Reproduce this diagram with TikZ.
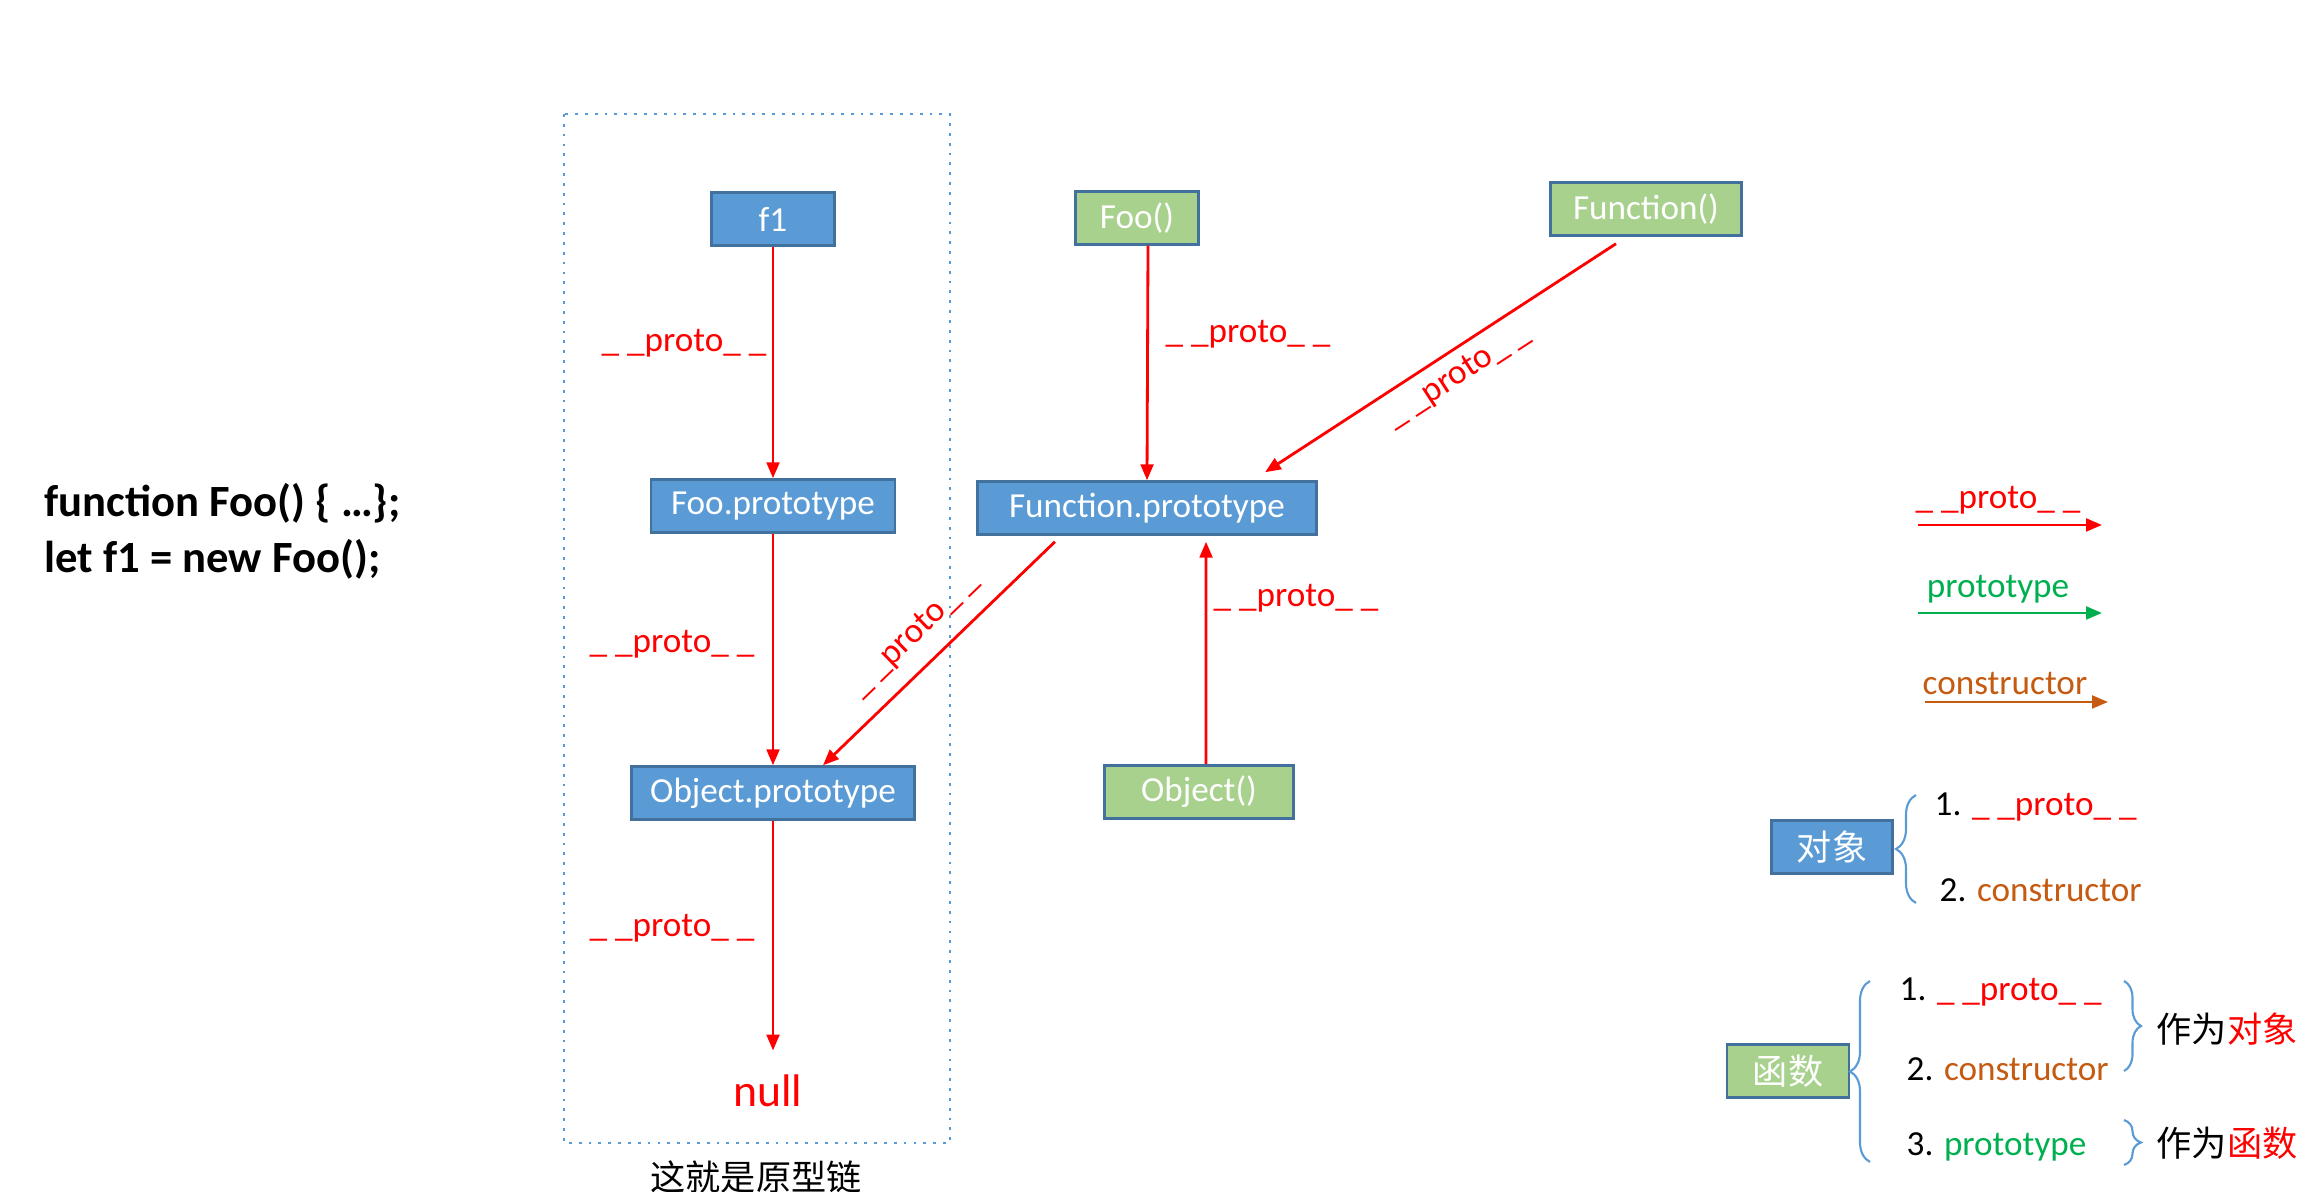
\documentclass[tikz,border=0pt]{standalone}
\usepackage{fontspec}
\setmainfont{Carlito}
\newfontfamily\cjk{Noto Sans CJK SC}
\usetikzlibrary{arrows.meta,decorations.pathreplacing}
\definecolor{boxblue}{HTML}{5B9BD5}
\definecolor{boxgreen}{HTML}{A9D18E}
\definecolor{edgeblue}{HTML}{41719C}
\definecolor{protored}{HTML}{FF0000}
\definecolor{typegreen}{HTML}{00B050}
\definecolor{ctororange}{HTML}{C55A11}

\begin{document}
\begin{tikzpicture}[x=0.01cm,y=-0.01cm,
  objbox/.style={draw=edgeblue,line width=0.7pt,fill=boxblue,text=white,
    minimum height=0.53cm,inner sep=0pt},
  funbox/.style={objbox,fill=boxgreen},
  link/.style={draw=protored,line width=0.8pt,-{Triangle[length=4.5pt,width=3.6pt]}},
  plabel/.style={text=protored},
  item/.style={anchor=west,inner sep=0pt},
  curly/.style={draw=boxblue,line width=0.6pt,decorate,
    decoration={brace,amplitude=0.2cm}}]
  \useasboundingbox (0,0) rectangle (2320,1192);

  % code
  \node[anchor=west,inner sep=0pt,align=left,font=\bfseries\fontsize{12.7}{16}\selectfont] (code)
    at (44,531) {function Foo() \{ …\};\\let f1 = new Foo();};

  % the chain
  \draw[boxblue,dotted,line width=0.8pt] (564,114) rectangle (950,1143);
  \node (chain) at (756,1177) {\cjk 这就是原型链};

  \node[objbox,minimum width=1.23cm] (f1) at (773,219) {f1};
  \node[objbox,minimum width=2.44cm] (fooproto) at (773,506) {Foo.prototype};
  \node[objbox,minimum width=2.83cm] (objproto) at (773,793) {Object.prototype};
  \node[plabel,font=\fontsize{13}{15}\selectfont] (null) at (768,1091) {null};

  \node[funbox,minimum width=1.23cm] (foo) at (1137,218) {Foo()};
  \node[funbox,minimum width=1.91cm] (func) at (1646,209) {Function()};
  \node[objbox,minimum width=3.39cm] (funproto) at (1147,508) {Function.prototype};
  \node[funbox,minimum width=1.89cm] (objfun) at (1199,792) {Object()};

  \draw[link] (f1) -- (fooproto);
  \draw[link] (fooproto) -- (objproto);
  \draw[link] (objproto) -- ([yshift=0.12cm]objproto.south |- null.north);
  \draw[link] ([xshift=0.11cm]foo.south) -- (funproto.north);
  \draw[link] ([xshift=-0.3cm,yshift=-0.07cm]func.south) -- ([xshift=1.18cm,yshift=0.08cm]funproto.north);
  \draw[link] ([xshift=-0.92cm,yshift=-0.06cm]funproto.south) -- ([xshift=0.5cm]objproto.north);
  \draw[link] ([xshift=0.07cm]objfun.north) -- ([xshift=0.59cm,yshift=-0.06cm]funproto.south);

  \node[plabel] (l1) at (684,343) {\_ \_proto\_ \_};
  \node[plabel] (l2) at (672,644) {\_ \_proto\_ \_};
  \node[plabel] (l3) at (672,928) {\_ \_proto\_ \_};
  \node[plabel] (l4) at (1248,334) {\_ \_proto\_ \_};
  \node[plabel] (l5) at (1296,598) {\_ \_proto\_ \_};
  \node[plabel,rotate=33] (l6) at (1458,376) {\_ \_proto\_ \_};
  \node[plabel,rotate=44] (l7) at (914,634) {\_ \_proto\_ \_};

  % legend
  \coordinate (pa) at (1918,525);
  \coordinate (pb) at (2102,525);
  \coordinate (ta) at (1918,613);
  \coordinate (tb) at (2102,613);
  \coordinate (ca) at (1925,702);
  \coordinate (cb) at (2108,702);
  \draw[link] (pa) -- (pb);
  \draw[link,draw=typegreen] (ta) -- (tb);
  \draw[link,draw=ctororange] (ca) -- (cb);
  \node[plabel] (lp) at (1998,500) {\_ \_proto\_ \_};
  \node[text=typegreen] (lt) at (1998,589) {prototype};
  \node[text=ctororange] (lc) at (2005,684) {constructor};

  % objects
  \node[objbox,minimum width=1.21cm] (obj) at (1832,847) {\cjk 对象};
  \draw[curly] (1916,903) -- (1916,795);
  \node[item] (o1) at (1934,807) {1. \textcolor{protored}{\_ \_proto\_ \_}};
  \node[item] (o2) at (1939,890) {2. \textcolor{ctororange}{constructor}};

  % functions
  \node[funbox,minimum width=1.22cm] (fn) at (1788,1071) {\cjk 函数};
  \draw[curly] (1870,1162) -- (1870,981);
  \node[item] (f1item) at (1899,992) {1. \textcolor{protored}{\_ \_proto\_ \_}};
  \node[item] (f2item) at (1906,1069) {2. \textcolor{ctororange}{constructor}};
  \node[item] (f3item) at (1906,1147) {3. \textcolor{typegreen}{prototype}};
  \draw[curly,decoration={amplitude=0.17cm}] (2124,981) -- (2124,1071);
  \draw[curly,decoration={amplitude=0.17cm}] (2124,1120) -- (2124,1165);
  \node[item] (asobj) at (2156,1029) {\cjk 作为\textcolor{protored}{对象}};
  \node[item] (asfn) at (2156,1143) {\cjk 作为\textcolor{protored}{函数}};
\end{tikzpicture}
\end{document}
